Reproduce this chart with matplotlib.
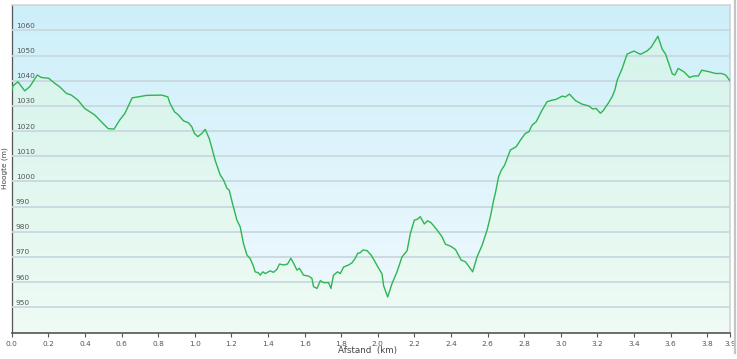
import numpy as np
import matplotlib.pyplot as plt
from matplotlib.colors import LinearSegmentedColormap
from matplotlib.lines import Line2D

# elevation profile
dist_km = [0.000, 0.007, 0.034, 0.071, 0.098, 0.140, 0.162, 0.202, 0.235, 0.262,
           0.299, 0.326, 0.362, 0.399, 0.454, 0.490, 0.527, 0.559, 0.590, 0.618,
           0.658, 0.690, 0.738, 0.820, 0.853, 0.865, 0.889, 0.911, 0.938, 0.966,
           0.984, 0.998, 1.017, 1.039, 1.057, 1.079, 1.094, 1.111, 1.139, 1.157,
           1.176, 1.188, 1.206, 1.230, 1.248, 1.266, 1.285, 1.303, 1.318, 1.330,
           1.348, 1.358, 1.372, 1.385, 1.412, 1.430, 1.449, 1.463, 1.485, 1.507,
           1.525, 1.540, 1.558, 1.572, 1.594, 1.622, 1.640, 1.649, 1.668, 1.686,
           1.704, 1.731, 1.744, 1.758, 1.780, 1.795, 1.813, 1.840, 1.859, 1.877,
           1.890, 1.904, 1.919, 1.941, 1.963, 1.977, 2.004, 2.023, 2.032, 2.054,
           2.078, 2.105, 2.132, 2.160, 2.178, 2.200, 2.214, 2.232, 2.254, 2.272,
           2.291, 2.324, 2.351, 2.369, 2.397, 2.424, 2.455, 2.478, 2.496, 2.518,
           2.542, 2.570, 2.597, 2.615, 2.633, 2.642, 2.660, 2.675, 2.693, 2.724,
           2.756, 2.779, 2.806, 2.825, 2.843, 2.865, 2.898, 2.925, 2.952, 2.974,
           3.007, 3.025, 3.047, 3.080, 3.116, 3.153, 3.174, 3.193, 3.216, 3.231,
           3.258, 3.280, 3.295, 3.308, 3.335, 3.362, 3.399, 3.435, 3.472, 3.495,
           3.530, 3.554, 3.572, 3.609, 3.623, 3.641, 3.672, 3.703, 3.727, 3.751,
           3.770, 3.809, 3.845, 3.878, 3.900, 3.924]
elev_m = [1036, 1038, 1039.6, 1036, 1037.6, 1042.3, 1041.3, 1041, 1039, 1037.6,
          1035, 1034.3, 1032.3, 1029, 1026.4, 1023.7, 1021, 1020.8, 1024.4, 1027,
          1033.2, 1033.6, 1034.2, 1034.3, 1033.6, 1031, 1027.7, 1026.4, 1024.1, 1023.3,
          1021.7, 1019.1, 1017.8, 1019.1, 1020.7, 1017.1, 1013.2, 1008.5, 1002.6, 1000.6,
          997.3, 996.6, 991.3, 984.7, 982, 975.4, 970.8, 969.3, 966.8, 964.1,
          963.7, 962.8, 964.1, 963.4, 964.5, 963.9, 965.1, 967.2, 966.8, 967.2,
          969.5, 967.5, 964.8, 965.5, 962.8, 962.4, 961.5, 958.2, 957.5, 960.6,
          959.8, 959.8, 957.5, 962.8, 964.1, 963.4, 966, 966.8, 967.7, 969.5,
          971.5, 971.7, 972.8, 972.5, 970.8, 969.1, 965.6, 963.3, 958.5, 954.1,
          959.5, 964.1, 970, 972.5, 979.4, 984.7, 984.9, 986, 983.1, 984.4,
          983.6, 980.7, 978, 975.1, 974.3, 973, 968.8, 968.1, 966.4, 964.1,
          970, 974.7, 980.7, 986, 992.6, 995.3, 1001.9, 1004.5, 1006.5, 1012.5,
          1013.8, 1016.4, 1019.1, 1019.7, 1022.4, 1023.7, 1028.4, 1031.7, 1032.3, 1032.6,
          1033.9, 1033.6, 1034.7, 1032.1, 1030.7, 1030, 1028.8, 1029, 1027.1, 1028.1,
          1031, 1033.6, 1036.3, 1040.3, 1044.9, 1050.6, 1051.8, 1050.5, 1051.9, 1053.5,
          1057.7, 1052.5, 1050.6, 1042.7, 1042.3, 1044.9, 1043.6, 1041.3, 1041.9, 1041.9,
          1044.2, 1043.6, 1042.9, 1042.9, 1042.3, 1040]

y_ticks = [950, 960, 970, 980, 990, 1000, 1010, 1020, 1030, 1040, 1050, 1060]
x_ticks = [0.0, 0.2, 0.4, 0.6, 0.8, 1.0, 1.2, 1.4, 1.6, 1.8, 2.0, 2.2, 2.4,
           2.6, 2.8, 3.0, 3.2, 3.4, 3.6, 3.8, 3.924]
x_tick_labels = ['0.0', '0.2', '0.4', '0.6', '0.8', '1.0', '1.2', '1.4', '1.6',
                 '1.8', '2.0', '2.2', '2.4', '2.6', '2.8', '3.0', '3.2', '3.4',
                 '3.6', '3.8', '3.9']

x_max = dist_km[-1]
y_lo, y_hi = 939.8, 1070.1

fig = plt.figure(figsize=(7.37, 3.59), dpi=100)
ax = fig.add_axes([11.7 / 737, 26 / 359, (730 - 11.7) / 737, 328 / 359])

# background gradient (light blue at top, almost white at the bottom)
bg = LinearSegmentedColormap.from_list('bg', ['#f1fafd', '#cdeffa'])
grad = np.linspace(0, 1, 256).reshape(-1, 1)
ax.imshow(grad, extent=[0, x_max, y_lo, y_hi], aspect='auto', cmap=bg,
          origin='lower', zorder=0)

# green-tinted area under the profile
fill_cmap = LinearSegmentedColormap.from_list('fill', ['#effbf4', '#d2f3ea'])
area = ax.fill_between(dist_km, elev_m, y_lo, color='none', lw=0)
img = ax.imshow(grad, extent=[0, x_max, y_lo, y_hi], aspect='auto',
                cmap=fill_cmap, origin='lower', zorder=0.2)
img.set_clip_path(area.get_paths()[0], transform=ax.transData)

ax.plot(dist_km, elev_m, color='#2fb552', lw=1.0, zorder=3)

ax.set_xlim(0, x_max)
ax.set_ylim(y_lo, y_hi)

ax.set_yticks(y_ticks)
ax.yaxis.grid(True, color='#c8d9df', lw=1.3, zorder=1)
ax.set_axisbelow(False)
ax.tick_params(axis='y', length=0, labelleft=False)
for v in y_ticks:
    ax.text(0.0058, v + 0.6, str(v), transform=ax.get_yaxis_transform(),
            fontsize=5.3, color='#555555', ha='left', va='bottom', zorder=4)

ax.set_xticks(x_ticks)
ax.set_xticklabels(x_tick_labels)
ax.tick_params(axis='x', length=3, width=0.8, color='#555555',
               labelsize=5.3, labelcolor='#555555', pad=3)

for s in ['left', 'bottom']:
    ax.spines[s].set_color('#555555')
ax.spines['left'].set_linewidth(0.9)
ax.spines['bottom'].set_linewidth(1.2)
for s in ['top', 'right']:
    ax.spines[s].set_color('#d4d4d4')
    ax.spines[s].set_linewidth(1.2)

fig.text(368 / 737, 1 - 351 / 359, 'Afstand  (km)', ha='center', va='center',
         fontsize=6.3, color='#444444')
fig.text(5 / 737, 1 - 168 / 359, 'Hoogte (m)', ha='center', va='center',
         rotation=90, fontsize=5.3, color='#444444')

# outer frame line on the right
fig.add_artist(Line2D([735 / 737, 735 / 737], [1 - 353 / 359, 1],
                      color='#c4c4c4', lw=1.6))

fig.savefig('out.png', dpi=100)
